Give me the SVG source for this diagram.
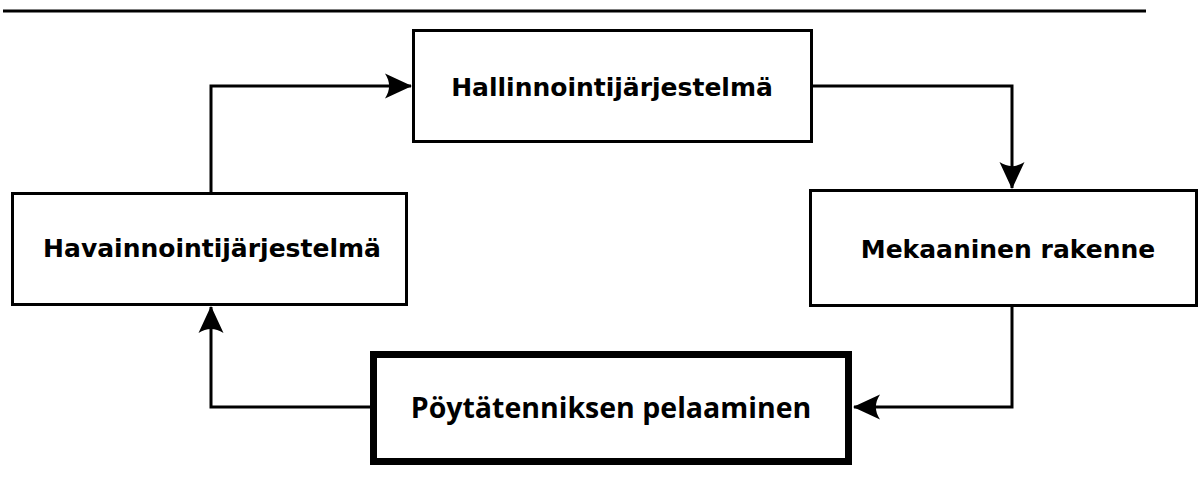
<svg xmlns="http://www.w3.org/2000/svg" width="1200" height="480" viewBox="0 0 1200 480">
  <style>
    .box { fill: #ffffff; stroke: #000000; stroke-width: 3; }
    .box-strong { fill: #ffffff; stroke: #000000; stroke-width: 7; }
    .label { font-family: "DejaVu Sans", sans-serif; font-weight: bold; font-size: 25px; fill: #000000; text-anchor: middle; }
    .label-alt { font-family: "Open Sans", "Noto Sans", sans-serif; font-weight: bold; font-size: 28.5px; fill: #000000; text-anchor: middle; }
    .link { fill: none; stroke: #000000; stroke-width: 3; stroke-linejoin: miter; }
  </style>
  <defs>
    <marker id="arrow" markerUnits="userSpaceOnUse" viewBox="-28 -14 30 28" refX="0" refY="0" markerWidth="30" markerHeight="28" orient="auto">
      <path d="M1,0 L-26,-12.5 C-20.5,-4 -20.5,4 -26,12.5 Z" fill="#000000"/>
    </marker>
  </defs>

  <!-- rule across the top -->
  <line x1="3" y1="11" x2="1146" y2="11" stroke="#000000" stroke-width="3"/>

  <!-- connectors -->
  <g id="connectors">
    <path class="link" d="M211,193 V86 H411" marker-end="url(#arrow)"/>
    <path class="link" d="M812,86 H1012 V188" marker-end="url(#arrow)"/>
    <path class="link" d="M1012,306 V407 H854" marker-end="url(#arrow)"/>
    <path class="link" d="M370,407 H211 V307" marker-end="url(#arrow)"/>
  </g>

  <g id="hallinnointi">
    <rect class="box" x="413.5" y="30.5" width="398" height="111"/>
    <text class="label" x="612" y="96">Hallinnointijärjestelmä</text>
  </g>

  <g id="havainnointi">
    <rect class="box" x="12.5" y="193.5" width="394" height="111"/>
    <text class="label" x="212" y="257">Havainnointijärjestelmä</text>
  </g>

  <g id="mekaaninen">
    <rect class="box" x="810.5" y="190.5" width="386" height="115"/>
    <text class="label" x="1008" y="258">Mekaaninen rakenne</text>
  </g>

  <g id="pelaaminen">
    <rect class="box-strong" x="373.5" y="354.5" width="475" height="107"/>
    <text class="label-alt" x="611" y="418">Pöytätenniksen pelaaminen</text>
  </g>
</svg>
